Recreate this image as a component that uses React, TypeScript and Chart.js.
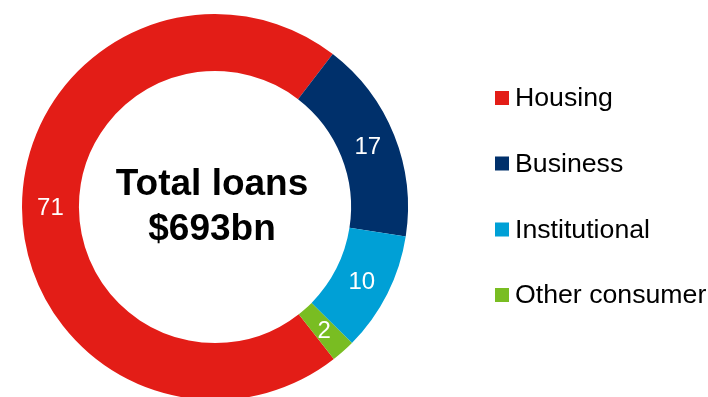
import React, { useEffect, useRef } from "react";
import { Chart, registerables } from "chart.js";

Chart.register(...registerables);

const categories = ["Housing", "Business", "Institutional", "Other consumer"];
const shares = [71, 17, 10, 2];
const colors = ["#E31D17", "#00306B", "#00A0D6", "#79BD22"];
const centerLines = ["Total loans", "$693bn"];

const FONT = "'Liberation Sans', Arial, Helvetica, sans-serif";

const labelsPlugin = {
  id: "sliceLabels",
  afterDatasetsDraw(chart: any) {
    const ctx = chart.ctx;
    const meta = chart.getDatasetMeta(0);
    ctx.save();
    ctx.fillStyle = "#ffffff";
    ctx.font = `24px ${FONT}`;
    ctx.textAlign = "center";
    ctx.textBaseline = "middle";
    meta.data.forEach((arc: any, i: number) => {
      const p = arc.getCenterPoint();
      ctx.fillText(String(shares[i]), p.x, p.y + 1);
    });
    // center text
    ctx.fillStyle = "#000000";
    ctx.font = `bold 37px ${FONT}`;
    ctx.textBaseline = "alphabetic";
    const cx = (chart.chartArea.left + chart.chartArea.right) / 2 - 3;
    ctx.fillText(centerLines[0], cx, 195);
    ctx.fillText(centerLines[1], cx, 240);
    // legend
    ctx.textAlign = "left";
    ctx.font = `26.7px ${FONT}`;
    const baselines = [106, 171.5, 237.5, 303];
    categories.forEach((c, i) => {
      ctx.fillStyle = colors[i];
      ctx.fillRect(495, baselines[i] - 15, 14, 14);
      ctx.fillStyle = "#000000";
      ctx.fillText(c, 515, baselines[i]);
    });
    ctx.restore();
  },
};

export default function App() {
  const ref = useRef<HTMLCanvasElement>(null);
  useEffect(() => {
    if (!ref.current) return;
    const chart = new Chart(ref.current, {
      type: "doughnut",
      data: {
        labels: categories,
        datasets: [
          {
            data: shares,
            backgroundColor: colors,
            borderWidth: 0,
          },
        ],
      },
      options: {
        responsive: false,
        animation: false,
        cutout: "70.5%",
        rotation: 142,
        layout: { padding: { left: 22, top: 14, bottom: 14, right: 300 } },
        plugins: {
          legend: { display: false },
          tooltip: { enabled: false },
        },
      },
      plugins: [labelsPlugin],
    });
    return () => chart.destroy();
  }, []);
  return (
    <div
      style={{
        position: "fixed",
        left: 0,
        top: 0,
        width: 708,
        height: 397,
        overflow: "hidden",
        background: "#ffffff",
      }}
    >
      <canvas ref={ref} width={708} height={414} style={{ display: "block" }} />
    </div>
  );
}
